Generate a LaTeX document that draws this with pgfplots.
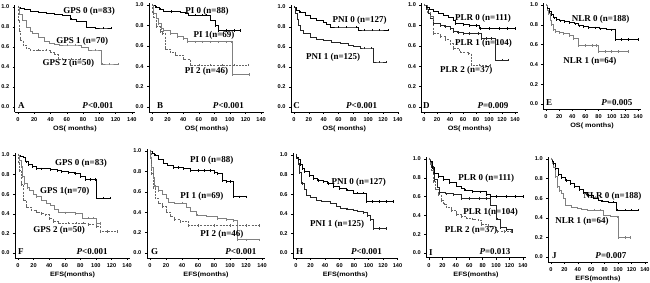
\documentclass[border=0pt]{standalone}
\usepackage{fontspec}
\setmainfont{Liberation Serif}
\setsansfont{Liberation Sans}
\usepackage{pgfplots}
\pgfplotsset{compat=1.18}
\pgfplotsset{
  km/.style={
    axis lines*=left,
    axis line style={line width=0.6pt},
    clip=false,
    xmin=-4, xmax=144, ymin=-0.05, ymax=1.02,
    xtick={0,20,...,140}, ytick={0,0.2,0.4,0.6,0.8,1.0},
    tick align=outside, major tick length=2pt,
    tick style={line width=0.5pt,black},
    tick label style={font=\fontsize{5.6}{5.8}\selectfont\sffamily\bfseries},
    /pgf/number format/assume math mode=true,
    yticklabel style={/pgf/number format/.cd,fixed,fixed zerofill,precision=1},
    xticklabel style={/pgf/number format/.cd,fixed,precision=0},
    xlabel style={font=\fontsize{6.3}{6.5}\selectfont\sffamily\bfseries, xscale=1.15, yshift=2.5pt},
    every axis plot/.append style={const plot},
    anchor=south west,
  },
  s0/.style={black, line width=0.9pt, mark=|, mark size=1.2pt, mark options={line width=0.5pt}},
  s0b/.style={black!85, line width=0.7pt, mark=|, mark size=1.2pt, mark options={line width=0.5pt}},
  s1/.style={black!50, line width=0.65pt, mark=|, mark size=1.2pt, mark options={line width=0.5pt}},
  s2/.style={black!60, line width=0.6pt, dash pattern=on 2pt off 1.2pt, mark=|, mark size=1.2pt, mark options={solid,line width=0.5pt}},
}
\tikzset{lab/.style={anchor=west, font=\fontsize{9}{9}\selectfont\bfseries, inner sep=0pt}}
\begin{document}
\begin{tikzpicture}
\useasboundingbox (0,0) rectangle (650pt,283pt);
% ---------------- A
\begin{axis}[km, x=0.814pt, y=100pt, at={(14.7pt,171pt)}, xlabel={OS( months)}]
\addplot[s0] coordinates {(0,1) (3,0.99) (8,0.98) (15,0.96) (25,0.95) (35,0.94) (45,0.93) (55,0.92) (65,0.88) (72,0.86) (84,0.80) (95,0.79) (105,0.79) (115,0.79)};
\addplot[s1] coordinates {(0,1) (2,0.93) (5,0.87) (10,0.80) (15,0.76) (18,0.74) (25,0.70) (32,0.66) (39,0.64) (45,0.63) (51,0.62) (60,0.62) (70,0.62) (78,0.60) (86,0.57) (95,0.57) (103,0.43) (112,0.43) (123,0.43)};
\addplot[s2] coordinates {(0,1) (1,0.86) (2,0.76) (3,0.67) (6,0.62) (10,0.59) (15,0.57) (25,0.57) (35,0.57) (40,0.55) (45,0.53) (49,0.48) (55,0.48) (65,0.48) (76,0.48)};
\node[lab] at (axis cs:55.5,0.96) {GPS 0 (n=83)};
\node[lab] at (axis cs:47,0.66) {GPS 1 (n=70)};
\node[lab] at (axis cs:30,0.44) {GPS 2 (n=50)};
\node[lab] at (axis cs:0,0.01) {A};
\node[lab] at (axis cs:79,0.01) {\textit{P}<0.001};
\end{axis}
% ---------------- B
\begin{axis}[km, x=0.779pt, y=102pt, at={(148.9pt,170.9pt)}, xlabel={OS( months)}]
\addplot[s0] coordinates {(0,1) (5,0.98) (10,0.96) (15,0.94) (25,0.935) (36,0.93) (43,0.92) (47,0.90) (55,0.90) (65,0.90) (70,0.90) (75,0.85) (81,0.80) (85,0.75) (95,0.75) (105,0.75) (113,0.75)};
\addplot[s1] coordinates {(0,1) (2,0.92) (5,0.87) (8.5,0.82) (12,0.77) (15,0.75) (23,0.72) (32,0.69) (40,0.67) (45,0.64) (55,0.64) (65,0.64) (75,0.64) (85,0.64) (95,0.64) (102,0.64) (103,0.32) (125,0.32)};
\addplot[s2] coordinates {(0,1) (1,0.92) (2,0.88) (6,0.79) (10,0.74) (13,0.72) (17,0.57) (23,0.54) (30,0.51) (40,0.47) (49,0.41) (60,0.41) (75,0.41) (90,0.41) (105,0.41) (124,0.41)};
\node[lab] at (axis cs:42.7,0.94) {PI 0 (n=88)};
\node[lab] at (axis cs:53,0.70) {PI 1(n=69)};
\node[lab] at (axis cs:42,0.35) {PI 2 (n=46)};
\node[lab] at (axis cs:6.4,0.01) {B};
\node[lab] at (axis cs:78,0.01) {\textit{P}<0.001};
\end{axis}
% ---------------- C
\begin{axis}[km, x=0.742pt, y=100pt, xmax=140, at={(291pt,171pt)}, xlabel={OS( months)}]
\addplot[s0] coordinates {(0,1) (3,0.97) (8,0.95) (15,0.92) (21.6,0.89) (30,0.87) (39.5,0.85) (44,0.83) (48.5,0.80) (60,0.80) (70,0.80) (84,0.80) (86.7,0.77) (95,0.77) (105,0.77) (115,0.77) (127,0.77)};
\addplot[s0b] coordinates {(0,1) (2,0.94) (4,0.88) (6,0.82) (8,0.77) (12.5,0.74) (21.6,0.70) (30,0.68) (39.5,0.67) (50,0.65) (62,0.64) (73,0.62) (80,0.61) (89,0.59) (95,0.59) (104.7,0.59) (107,0.45) (115,0.45) (125,0.45)};
\node[lab] at (axis cs:51.7,0.87) {PNI 0 (n=127)};
\node[lab] at (axis cs:16,0.50) {PNI 1 (n=125)};
\node[lab] at (axis cs:-1,0.01) {C};
\node[lab] at (axis cs:70,0.01) {\textit{P}<0.001};
\end{axis}
% ---------------- D
\begin{axis}[km, x=0.65pt, y=102pt, at={(421.4pt,170.9pt)}, xlabel={OS( months)}]
\addplot[s0] coordinates {(0,1) (4,0.98) (8,0.96) (14.3,0.94) (22,0.92) (29.7,0.90) (37,0.88) (45,0.85) (48,0.82) (60,0.81) (70,0.80) (81,0.80) (86,0.77) (100,0.77) (115,0.77) (128,0.77) (140,0.77)};
\addplot[s0b] coordinates {(0,1) (3,0.96) (6.6,0.92) (10,0.87) (14.3,0.82) (24.6,0.80) (32,0.79) (40,0.77) (45,0.74) (52,0.73) (60.5,0.72) (70,0.72) (83.6,0.72) (88.7,0.67) (95,0.67) (104,0.67) (109,0.46) (120,0.46) (130,0.46)};
\addplot[s2] coordinates {(0,1) (5,0.93) (9,0.885) (14.3,0.72) (24.6,0.69) (32,0.66) (40,0.62) (45,0.575) (55,0.54) (68,0.525) (73,0.41) (85,0.41) (101.5,0.41)};
\node[lab] at (axis cs:47.7,0.87) {PLR 0 (n=111)};
\node[lab] at (axis cs:47.7,0.62) {PLR 1 (n=104)};
\node[lab] at (axis cs:24.6,0.36) {PLR 2 (n=37)};
\node[lab] at (axis cs:-1.5,0.01) {D};
\node[lab] at (axis cs:82,0.01) {\textit{P}=0.009};
\end{axis}
% ---------------- E
\begin{axis}[km, x=0.657pt, y=99pt, at={(543.4pt,174.05pt)}, xlabel={OS( months)}]
\addplot[s0] coordinates {(0,1) (2,0.97) (5,0.93) (8.6,0.90) (12,0.87) (16,0.85) (21,0.84) (28,0.83) (36,0.82) (44,0.81) (50,0.79) (57,0.78) (65,0.77) (75,0.77) (82,0.76) (92,0.755) (100,0.75) (105,0.75) (106,0.65) (115,0.65) (125,0.65) (140,0.65)};
\addplot[s1] coordinates {(0,1) (2,0.95) (3.5,0.915) (6,0.85) (8.6,0.80) (11,0.75) (13.6,0.73) (20,0.72) (26,0.71) (35,0.69) (41,0.66) (49,0.59) (60,0.59) (70,0.59) (77,0.59) (79,0.53) (90,0.53) (100,0.53) (110,0.53) (125,0.53)};
\node[lab] at (axis cs:39,0.855) {NLR 0 (n=188)};
\node[lab] at (axis cs:26,0.43) {NLR 1 (n=64)};
\node[lab] at (axis cs:0,0.01) {E};
\node[lab] at (axis cs:84,0.01) {\textit{P}=0.005};
\end{axis}
% ---------------- F
\begin{axis}[km, x=0.779pt, y=98pt, at={(14.9pt,25.1pt)}, xlabel={EFS(months)}]
\addplot[s0] coordinates {(0,1) (3,0.99) (6.5,0.98) (10,0.93) (13,0.90) (18,0.88) (24,0.86) (30,0.86) (41,0.85) (50,0.84) (56,0.83) (65,0.82) (73,0.81) (80,0.78) (86,0.75) (93,0.75) (99,0.75) (101,0.56) (110,0.56) (118,0.56)};
\addplot[s1] coordinates {(0,1) (2,0.95) (4.3,0.88) (6,0.78) (8.6,0.71) (12,0.67) (15,0.64) (20,0.60) (24,0.575) (30,0.54) (36,0.51) (41,0.49) (46,0.45) (52,0.42) (60,0.41) (73,0.40) (82,0.356) (90,0.356) (97,0.356) (101,0.30) (105,0.30)};
\addplot[s2] coordinates {(0,1) (1,0.92) (2,0.84) (4,0.70) (6.5,0.54) (11,0.47) (17,0.44) (24,0.42) (30,0.40) (34.5,0.39) (40,0.35) (45,0.32) (52,0.305) (65,0.305) (75,0.305) (84,0.305) (90,0.29) (100,0.27) (105.5,0.22) (115,0.22) (127,0.22)};
\node[lab] at (axis cs:47.4,0.915) {GPS 0 (n=83)};
\node[lab] at (axis cs:28,0.63) {GPS 1(n=70)};
\node[lab] at (axis cs:19.4,0.23) {GPS 2 (n=50)};
\node[lab] at (axis cs:0,0.01) {F};
\node[lab] at (axis cs:75,0.01) {\textit{P}<0.001};
\end{axis}
% ---------------- G
\begin{axis}[km, x=0.8pt, y=102pt, at={(146.8pt,24.9pt)}, xlabel={EFS(months)}]
\addplot[s0] coordinates {(0,1) (3,0.98) (6,0.96) (10,0.92) (17,0.88) (22,0.86) (29,0.84) (35,0.84) (42,0.83) (50,0.81) (60,0.81) (68,0.81) (75,0.81) (80,0.79) (84,0.78) (90,0.71) (95,0.70) (100,0.70) (104,0.55) (112,0.55) (120,0.55)};
\addplot[s1] coordinates {(0,1) (1,0.93) (2,0.84) (4,0.74) (6,0.65) (10,0.61) (15,0.58) (20,0.54) (23,0.50) (30,0.49) (40,0.49) (45,0.45) (50,0.41) (58.5,0.37) (70,0.36) (84,0.34) (95,0.33) (104,0.32) (109,0.13) (120,0.13) (136,0.13)};
\addplot[s2] coordinates {(0,1) (1,0.90) (2,0.78) (4,0.64) (6,0.54) (10,0.49) (15,0.455) (20,0.40) (25,0.36) (30,0.33) (37.6,0.31) (48,0.27) (60,0.27) (80,0.27) (100,0.27) (120,0.27) (136,0.27)};
\node[lab] at (axis cs:50,0.91) {PI 0 (n=88)};
\node[lab] at (axis cs:37.6,0.56) {PI 1 (n=69)};
\node[lab] at (axis cs:62.7,0.185) {PI 2 (n=46)};
\node[lab] at (axis cs:1,0.01) {G};
\node[lab] at (axis cs:94,0.01) {\textit{P}<0.001};
\end{axis}
% ---------------- H
\begin{axis}[km, x=0.725pt, y=98pt, xmax=140, at={(293.1pt,25.1pt)}, xlabel={EFS(months)}]
\addplot[s0] coordinates {(0,1) (1,0.98) (3,0.95) (6,0.90) (9,0.86) (12,0.83) (18,0.79) (24,0.76) (30,0.74) (37.6,0.73) (44,0.71) (51,0.68) (60,0.66) (70,0.64) (79,0.61) (85,0.61) (92.5,0.61) (97,0.525) (105,0.525) (115,0.525) (125,0.525) (134,0.525)};
\addplot[s0b] coordinates {(0,1) (1,0.97) (3,0.915) (5,0.82) (8,0.71) (11,0.65) (14.7,0.59) (20,0.57) (28,0.54) (35,0.53) (47,0.51) (55,0.48) (60.5,0.46) (70,0.45) (79,0.44) (85,0.43) (92.5,0.41) (98,0.38) (102,0.34) (106,0.25) (115,0.25) (125,0.25)};
\node[lab] at (axis cs:49,0.72) {PNI 0 (n=127)};
\node[lab] at (axis cs:19.2,0.29) {PNI 1 (n=125)};
\node[lab] at (axis cs:0,0.01) {H};
\node[lab] at (axis cs:75.6,0.01) {\textit{P}<0.001};
\end{axis}
% ---------------- I
\begin{axis}[km, x=0.671pt, y=94pt, at={(426.3pt,25.3pt)}, xlabel={EFS(months)}]
\addplot[s0] coordinates {(0,1) (2,0.97) (5,0.91) (8.5,0.85) (14,0.81) (21,0.78) (30,0.75) (41,0.71) (48,0.69) (53.5,0.67) (65,0.65) (76,0.65) (85,0.62) (91,0.60) (100,0.60) (115,0.60) (128,0.60) (140,0.60)};
\addplot[s0b] coordinates {(0,1) (1.5,0.96) (3.5,0.92) (6,0.85) (8.5,0.78) (12,0.70) (16,0.64) (25,0.63) (36,0.62) (48.5,0.58) (60,0.58) (75,0.58) (86,0.58) (91,0.51) (101,0.36) (106,0.27) (115,0.25) (123.5,0.23)};
\addplot[s2] coordinates {(0,1) (1.5,0.95) (3.5,0.88) (7,0.76) (10,0.68) (13.5,0.62) (18,0.56) (22,0.52) (26,0.49) (33,0.45) (41,0.41) (48,0.39) (56,0.37) (65,0.36) (73.5,0.35) (78.5,0.30) (88,0.28) (96,0.27) (101,0.23) (112,0.23) (123,0.23)};
\node[lab] at (axis cs:43.5,0.795) {PLR 0 (n=111)};
\node[lab] at (axis cs:51,0.43) {PLR 1(n=104)};
\node[lab] at (axis cs:23.5,0.24) {PLR 2 (n=37)};
\node[lab] at (axis cs:0,0.01) {I};
\node[lab] at (axis cs:75,0.01) {\textit{P}=0.013};
\end{axis}
% ---------------- J
\begin{axis}[km, x=0.671pt, y=98pt, at={(548.3pt,21.1pt)}, xlabel={EFS(months)}]
\addplot[s0] coordinates {(0,1) (2,0.98) (4,0.95) (7,0.90) (11.4,0.84) (16,0.81) (22,0.78) (28.7,0.75) (35,0.72) (42,0.69) (48.5,0.66) (55,0.63) (63,0.60) (70,0.58) (75.7,0.57) (85,0.56) (93,0.56) (98,0.48) (110,0.48) (120,0.48) (130,0.48)};
\addplot[s1] coordinates {(0,1) (2,0.96) (4,0.92) (6,0.82) (9,0.72) (12,0.68) (16,0.65) (19,0.60) (21,0.53) (30,0.51) (38.6,0.50) (45,0.49) (53.4,0.48) (65,0.48) (73,0.48) (78,0.43) (88,0.42) (98,0.41) (100.5,0.20) (110,0.20) (118,0.20)};
\node[lab] at (axis cs:48.5,0.62) {NLR 0 (n=188)};
\node[lab] at (axis cs:6.4,0.36) {NLR 1 (n=64)};
\node[lab] at (axis cs:1.5,0.01) {J};
\node[lab] at (axis cs:66,0.01) {\textit{P}=0.007};
\end{axis}
\end{tikzpicture}
\end{document}
